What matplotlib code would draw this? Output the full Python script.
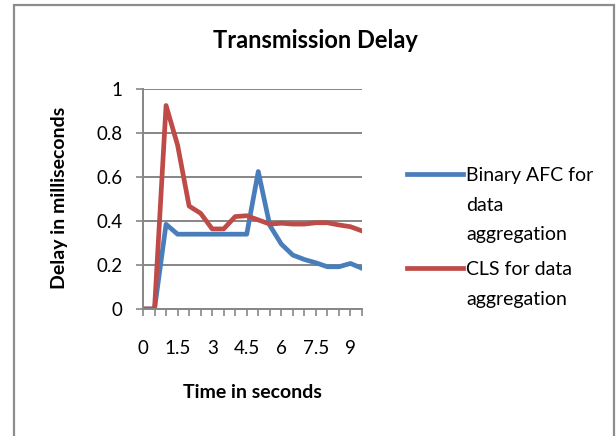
import matplotlib.pyplot as plt
from matplotlib.lines import Line2D
from matplotlib.patches import Rectangle

# =============================
# DATA
# =============================
times = [0, 0.5, 1, 1.5, 2, 2.5, 3, 3.5, 4, 4.5,
         5, 5.5, 6, 6.5, 7, 7.5, 8, 8.5, 9, 9.5]
tick_labels = ['0', '1.5', '3', '4.5', '6', '7.5', '9']

binary_afc = [0, 0, 0.385, 0.34, 0.34, 0.34, 0.34, 0.34, 0.34, 0.34,
              0.625, 0.38, 0.295, 0.245, 0.225, 0.21, 0.192, 0.192, 0.207, 0.185]
cls = [0, 0, 0.925, 0.745, 0.468, 0.435, 0.364, 0.364, 0.42, 0.424,
       0.405, 0.386, 0.39, 0.386, 0.386, 0.392, 0.392, 0.382, 0.374, 0.355]

series_names = ['Binary AFC for\ndata\naggregation', 'CLS for data\naggregation']

# =============================
# STYLE
# =============================
BLUE = '#4a7ebb'
RED = '#be4b48'
GRID = '#868686'
plt.rcParams['font.family'] = ['Lato', 'DejaVu Sans']

W, H = 616, 436
fig = plt.figure(figsize=(W / 100, H / 100), dpi=100)

# chart border
fig.add_artist(Rectangle((13.5 / W, -0.05), 600.5 / W, 1.05 - 5 / H,
                         transform=fig.transFigure, fill=False,
                         edgecolor='#8c8c8c', lw=1.6))

ax = fig.add_axes([143 / W, 1 - 309 / H, 219 / W, 220 / H])
ax.plot(times, binary_afc, color=BLUE, lw=3.4, solid_joinstyle='round')
ax.plot(times, cls, color=RED, lw=3.4, solid_joinstyle='round')

ax.set_xlim(times[0], times[-1])
ax.set_ylim(0, 1)
ax.set_yticks([0, 0.2, 0.4, 0.6, 0.8, 1.0])
ax.set_yticklabels(['0', '0.2', '0.4', '0.6', '0.8', '1'])
ax.set_xticks(times)
ax.set_xticklabels([tick_labels[i // 3] if i % 3 == 0 else '' for i in range(len(times))])

ax.grid(axis='y', color=GRID, lw=1.4)
ax.set_axisbelow(True)
for side in ['top', 'right']:
    ax.spines[side].set_visible(False)
for side in ['left', 'bottom']:
    ax.spines[side].set_color(GRID)
    ax.spines[side].set_linewidth(1.4)
ax.tick_params(axis='both', colors=GRID, length=5, width=1.2, labelcolor='black',
               labelsize=13.5)
ax.tick_params(axis='x', pad=17)
ax.tick_params(axis='y', pad=10)

fig.text(315 / W, 1 - 41 / H, 'Transmission Delay', ha='center', va='center',
         fontsize=17, fontweight='bold')
fig.text(60 / W, 1 - 198 / H, 'Delay in milliseconds', ha='center', va='center',
         rotation=90, fontsize=14, fontweight='bold')
fig.text(252 / W, 1 - 392 / H, 'Time in seconds', ha='center', va='center',
         fontsize=14, fontweight='bold')

# legend
legend_rows = [(174, BLUE, series_names[0]), (268, RED, series_names[1])]
for y, col, name in legend_rows:
    fig.add_artist(Line2D([407 / W, 463 / W], [1 - y / H, 1 - y / H],
                          transform=fig.transFigure, color=col, lw=3.4))
    fig.text(466 / W, 1 - (y - 7) / H, name, ha='left', va='top',
             fontsize=14, linespacing=1.9)

fig.savefig('out.png', dpi=100)
